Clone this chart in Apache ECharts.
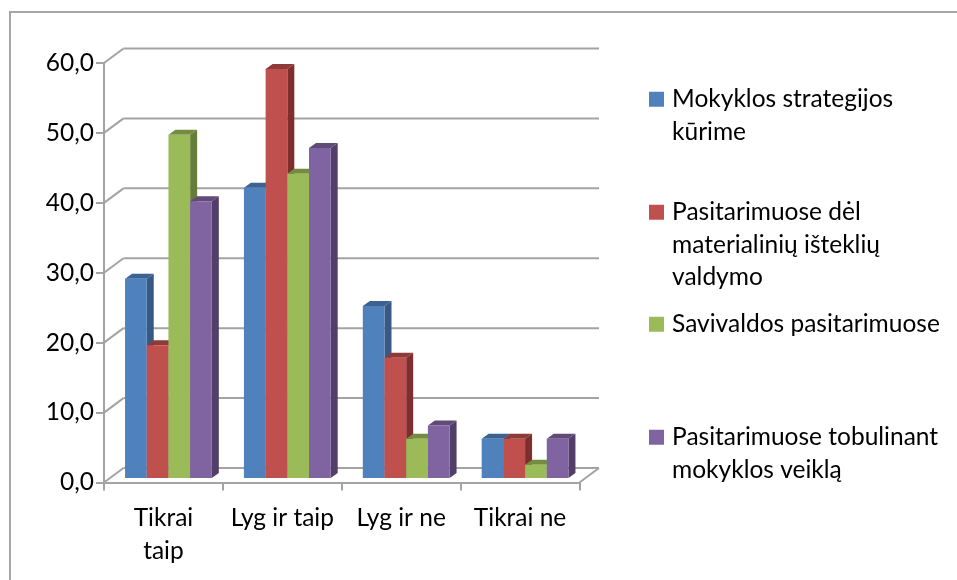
<!DOCTYPE html>
<html><head><meta charset="utf-8">
<style>html,body{margin:0;padding:0;background:#fff}#c{width:957px;height:580px}</style>
<script src="https://cdn.jsdelivr.net/npm/echarts@6/dist/echarts.min.js"></script>
</head><body><div id="c"></div>
<script>
const categories = ['Tikrai\ntaip', 'Lyg ir taip', 'Lyg ir ne', 'Tikrai ne'];
const seriesNames = ['Mokyklos strategijos\nkūrime', 'Pasitarimuose dėl\nmaterialinių išteklių\nvaldymo', 'Savivaldos pasitarimuose', 'Pasitarimuose tobulinant\nmokyklos veiklą'];
const strategija = [28.5, 41.5, 24.6, 5.6];
const materialiniai = [19.0, 58.5, 17.2, 5.6];
const savivalda = [49.1, 43.5, 5.6, 1.9];
const tobulinimas = [39.6, 47.2, 7.5, 5.6];
const yTicks = [0, 10, 20, 30, 40, 50, 60];
const frontColors = ['#4f81bd', '#c0504d', '#9bbb59', '#8064a2'];
const topColors = ['#3b6290', '#8e3a38', '#738c42', '#5f4a78'];
const sideColors = ['#375a85', '#7d2e2d', '#667c3a', '#523f69'];
const values = [strategija, materialiniai, savivalda, tobulinimas];

const WALL_DX = 19.5, WALL_DY = -14.5, DEPTH_DX = 7, DEPTH_DY = -5;
const BAR_SHIFT_X = 5, BAR_SHIFT_Y = -4.5, GROUP_RATIO = 0.73;
const GRID_COLOR = '#a3a3a3';

function wallItem(params, api) {
  const cs = params.coordSys;
  const y = api.coord([0, api.value(1)])[1];
  const st = { stroke: GRID_COLOR, lineWidth: 2, fill: null };
  const children = [
    { type: 'line', shape: { x1: cs.x, y1: y, x2: cs.x + WALL_DX, y2: y + WALL_DY }, style: st },
    { type: 'line', shape: { x1: cs.x + WALL_DX, y1: y + WALL_DY, x2: cs.x + cs.width + WALL_DX, y2: y + WALL_DY }, style: st }
  ];
  if (api.value(1) === 0) {
    children.push({ type: 'line', shape: { x1: cs.x + cs.width, y1: y, x2: cs.x + cs.width + WALL_DX, y2: y + WALL_DY }, style: st });
  }
  return { type: 'group', children };
}

function barRenderer(si) {
  return function (params, api) {
    const band = api.size([1, 0])[0];
    const w = band * GROUP_RATIO / values.length;
    const p = api.coord([api.value(0), api.value(1)]);
    const base = api.coord([api.value(0), 0]);
    const x1 = p[0] - band * GROUP_RATIO / 2 + si * w + BAR_SHIFT_X;
    const x2 = x1 + w;
    const yT = p[1] + BAR_SHIFT_Y;
    const yB = base[1] + BAR_SHIFT_Y;
    return {
      type: 'group',
      children: [
        { type: 'polygon', shape: { points: [[x2, yT], [x2 + DEPTH_DX, yT + DEPTH_DY], [x2 + DEPTH_DX, yB + DEPTH_DY], [x2, yB]] }, style: { fill: sideColors[si] } },
        { type: 'polygon', shape: { points: [[x1, yT], [x1 + DEPTH_DX, yT + DEPTH_DY], [x2 + DEPTH_DX, yT + DEPTH_DY], [x2, yT]] }, style: { fill: topColors[si] } },
        { type: 'rect', shape: { x: x1, y: yT, width: w, height: yB - yT }, style: { fill: frontColors[si] } }
      ]
    };
  };
}

const FONT = 'Lato';
const FS = 24.5;
const LINE = 32.5;
const markerTops = [91, 204, 316, 429];
const legends = seriesNames.map((name, i) => {
  const extra = name.split('\n').length - 1;
  return {
    data: [{ name, icon: 'rect' }],
    left: 649, top: markerTops[i] - extra * LINE - 8, padding: 0, itemWidth: 15, itemHeight: 15,
    selectedMode: false,
    formatter: n => '\n'.repeat(extra) + n.split('\n').map(l => '\u2009' + l).join('\n'),
    textStyle: { fontFamily: FONT, fontSize: FS, color: '#000', lineHeight: LINE }
  };
});

const option = {
  animation: false,
  backgroundColor: '#fff',
  grid: { left: 104, top: 63, width: 475.5, height: 419.5 },
  legend: legends,
  xAxis: {
    type: 'category', data: categories,
    axisLine: { lineStyle: { color: GRID_COLOR, width: 2 } },
    axisTick: { show: true, alignWithLabel: false, length: 8, lineStyle: { color: GRID_COLOR, width: 2 } },
    axisLabel: { fontFamily: FONT, fontSize: FS, color: '#000', lineHeight: 33, margin: 19.5, interval: 0 },
    splitLine: { show: false }
  },
  yAxis: {
    type: 'value', min: 0, max: 60, interval: 10,
    axisLine: { show: true, lineStyle: { color: GRID_COLOR, width: 2 } },
    axisTick: { show: true, length: 8, lineStyle: { color: GRID_COLOR, width: 2 } },
    axisLabel: { fontFamily: FONT, fontSize: FS, color: '#000', margin: 10, padding: [4, 0, 0, 0], formatter: v => v.toFixed(1).replace('.', ',') },
    splitLine: { show: false }
  },
  series: [
    { type: 'custom', silent: true, z: 1, data: yTicks.map(v => [0, v]), encode: { x: 0, y: 1 }, renderItem: wallItem, tooltip: { show: false } },
    ...seriesNames.map((name, si) => ({
      type: 'custom', name, z: 2 + si,
      itemStyle: { color: frontColors[si] },
      data: values[si].map((v, i) => [i, v]),
      encode: { x: 0, y: 1 },
      renderItem: barRenderer(si)
    }))
  ],
  graphic: [
    { type: 'polyline', silent: true, z: 0, shape: { points: [[10, 580], [10, 12], [957, 12]] }, style: { stroke: '#a6a6a6', lineWidth: 2, fill: null } }
  ]
};
echarts.init(document.getElementById('c'), null, { renderer: 'canvas' }).setOption(option);
</script></body></html>
